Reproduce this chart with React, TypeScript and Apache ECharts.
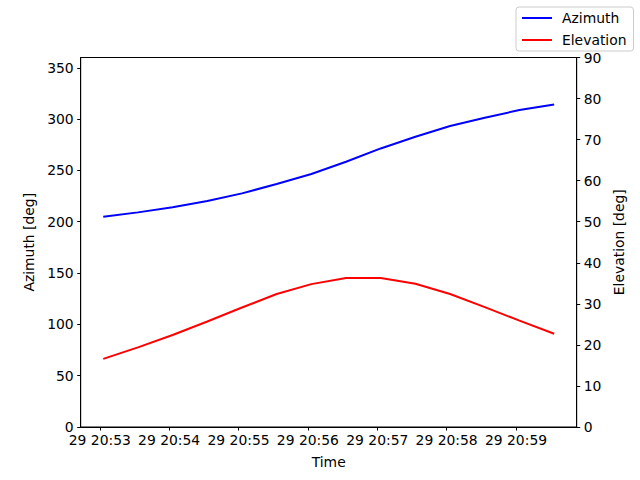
import { useEffect, useRef } from 'react';
import * as echarts from 'echarts';

// sample times (UTC, day 29), one every 30 s
const sampleTimes = [
  '20:53:03', '20:53:33', '20:54:03', '20:54:33', '20:55:03', '20:55:33', '20:56:03',
  '20:56:33', '20:57:03', '20:57:33', '20:58:03', '20:58:33', '20:59:03', '20:59:33',
];
const azimuth = [204.8, 209.1, 214.0, 220.1, 227.6, 236.7, 246.5, 258.4, 271.4, 282.8, 293.2, 301.3, 308.8, 314.3];
const elevation = [16.6, 19.4, 22.4, 25.7, 29.1, 32.4, 34.8, 36.3, 36.3, 34.9, 32.4, 29.2, 25.9, 22.7];
const timeTicks = ['20:53', '20:54', '20:55', '20:56', '20:57', '20:58', '20:59'];
const xRange = ['20:52:43.5', '20:59:52.5'];

const toMs = (t: string) => {
  const parts = t.split(':');
  const h = Number(parts[0]);
  const m = Number(parts[1]);
  const s = parts[2] ? parseFloat(parts[2]) : 0;
  return Date.UTC(2024, 0, 29, h, m, 0) + s * 1000;
};

const pad = (n: number) => String(n).padStart(2, '0');
const fmtTime = (v: number) => {
  const d = new Date(v);
  return `${d.getUTCDate()} ${pad(d.getUTCHours())}:${pad(d.getUTCMinutes())}`;
};

const FONT = 'DejaVu Sans';
const FS = 13.9;

const App = () => {
  const chartRef = useRef<HTMLDivElement>(null);

  useEffect(() => {
    if (!chartRef.current) return;
    const chart = echarts.init(chartRef.current, undefined, { renderer: 'svg' });

    const xs = sampleTimes.map(toMs);
    const tickValues = timeTicks.map(toMs);

    const axisText = { color: '#000', fontFamily: FONT, fontSize: FS };

    const option = {
      animation: false,
      backgroundColor: '#fff',
      textStyle: { fontFamily: FONT },
      grid: {
        left: 80.7,
        right: 63.3,
        top: 57.5,
        bottom: 53,
        show: true,
        borderColor: '#000',
        borderWidth: 1,
        backgroundColor: 'transparent',
      },
      legend: {
        orient: 'vertical',
        right: 6.5,
        top: 7,
        padding: [4, 7, 4, 5],
        itemWidth: 30,
        itemHeight: 14,
        itemGap: 8,
        backgroundColor: 'rgba(255,255,255,0.8)',
        borderColor: '#cccccc',
        borderWidth: 1,
        borderRadius: 3,
        // hide the marker dot, keep only the line
        itemStyle: { opacity: 0 },
        textStyle: { ...axisText, padding: [0, 0, 0, 5] },
        data: ['Azimuth', 'Elevation'],
      },
      xAxis: {
        type: 'value',
        min: toMs(xRange[0]),
        max: toMs(xRange[1]),
        name: 'Time',
        nameLocation: 'middle',
        nameGap: 28,
        nameTextStyle: axisText,
        splitLine: { show: false },
        axisLine: { show: true, lineStyle: { color: '#000', width: 1 } },
        axisTick: {
          show: true,
          inside: false,
          length: 3.5,
          lineStyle: { color: '#000', width: 1 },
          customValues: tickValues,
        },
        axisLabel: {
          ...axisText,
          margin: 6,
          customValues: tickValues,
          formatter: (v: number) => fmtTime(v),
        },
      },
      yAxis: [
        {
          type: 'value',
          min: 0,
          max: 360,
          interval: 50,
          name: 'Azimuth [deg]',
          nameLocation: 'middle',
          nameGap: 44,
          nameRotate: 90,
          nameTextStyle: axisText,
          splitLine: { show: false },
          axisLine: { show: true, lineStyle: { color: '#000', width: 1 } },
          axisTick: { show: true, length: 3.5, lineStyle: { color: '#000', width: 1 } },
          axisLabel: { ...axisText, margin: 7, showMaxLabel: false },
        },
        {
          type: 'value',
          position: 'right',
          min: 0,
          max: 90,
          interval: 10,
          name: 'Elevation [deg]',
          nameLocation: 'middle',
          nameGap: 31,
          nameRotate: 90,
          nameTextStyle: axisText,
          splitLine: { show: false },
          axisLine: { show: true, lineStyle: { color: '#000', width: 1 } },
          axisTick: { show: true, length: 3.5, lineStyle: { color: '#000', width: 1 } },
          axisLabel: { ...axisText, margin: 7 },
        },
      ],
      series: [
        {
          name: 'Azimuth',
          type: 'line',
          yAxisIndex: 0,
          symbol: 'none',
          data: xs.map((x, i) => [x, azimuth[i]]),
          lineStyle: { color: '#0000ff', width: 2 },
          itemStyle: { color: '#0000ff' },
        },
        {
          name: 'Elevation',
          type: 'line',
          yAxisIndex: 1,
          symbol: 'none',
          data: xs.map((x, i) => [x, elevation[i]]),
          lineStyle: { color: '#ff0000', width: 2 },
          itemStyle: { color: '#ff0000' },
        },
      ],
    };

    chart.setOption(option);

    return () => {
      chart.dispose();
    };
  }, []);

  return (
    <div
      ref={chartRef}
      style={{ position: 'fixed', left: 0, top: 0, width: '640px', height: '480px' }}
    />
  );
};

export default App;
